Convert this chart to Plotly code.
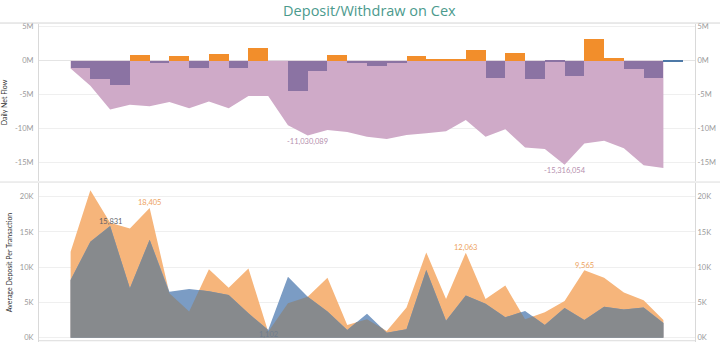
import plotly.graph_objects as go

# ---------------- data ----------------
days = list(range(31))
# daily net flow (millions)
net_flow = [-1.13, -2.75, -3.6, 0.84, -0.3, 0.64, -1.0, 1.03, -1.03, 1.92, 0.0,
            -4.4, -1.5, 0.79, -0.35, -0.74, -0.3, 0.64, 0.15, 0.3, 1.62, -2.56,
            1.08, -2.7, -0.2, -2.3, 3.15, 0.4, -1.23, -2.5, -0.2]
# running net flow (millions)
running_flow = [-1.13, -3.7, -7.2, -6.5, -6.7, -6.1, -7.0, -6.0, -7.0, -5.2, -5.2,
                -9.5, -11.030089, -10.2, -10.5, -11.2, -11.55, -10.96, -10.7, -10.4,
                -8.75, -11.2, -10.1, -12.8, -13.0, -15.316054, -12.2, -11.8, -12.9,
                -15.4, -15.8]
# average deposit per transaction (thousands), two series
avg_orange = [12.2, 20.9, 16.3, 15.5, 18.405, 6.3, 3.7, 9.7, 7.1, 9.8, 0.85,
              4.9, 5.8, 8.5, 1.8, 2.6, 0.95, 4.3, 12.1, 5.5, 12.063, 5.5, 7.4,
              2.6, 3.6, 5.2, 9.565, 8.5, 6.4, 5.3, 2.5]
avg_blue = [8.2, 13.6, 15.831, 7.0, 13.9, 6.5, 6.9, 6.6, 6.05, 3.45, 1.102,
            8.65, 5.8, 3.7, 1.1, 3.4, 0.7, 1.2, 9.6, 2.4, 6.0, 4.8, 2.9, 3.8,
            1.8, 4.2, 2.5, 4.4, 4.0, 4.3, 2.1]
bar_kind = ["neg" if v < 0 else "pos" for v in net_flow]
bar_kind[-1] = "last"

top_ticks = [5, 0, -5, -10, -15]
top_ticktext = ["5M", "0M", "-5M", "-10M", "-15M"]
bot_ticks = [0, 5, 10, 15, 20]
bot_ticktext = ["0K", "5K", "10K", "15K", "20K"]

ORANGE_BAR = "#f28e2b"
PURPLE_BAR = "#8b73a3"
LAST_BAR = "#4e79a7"
AREA_PURPLE = "#cfaac8"
ORANGE_AREA = "#f6b57b"
BLUE_AREA = "#7b9cc4"
GREY_AREA = "#878a8d"

fig = go.Figure()

# ---- top panel: running area (under) + daily bars (on overlaying axis, drawn above) ----
fig.add_trace(go.Scatter(x=days, y=[v * 1e6 for v in running_flow], mode="lines",
                         line=dict(width=0, color=AREA_PURPLE), fill="tozeroy",
                         fillcolor=AREA_PURPLE, xaxis="x", yaxis="y", showlegend=False,
                         hoverinfo="skip"))
colmap = {"neg": PURPLE_BAR, "pos": ORANGE_BAR, "last": LAST_BAR}
fig.add_trace(go.Bar(x=[d + 0.5 for d in days], y=[v * 1e6 for v in net_flow], width=1.0,
                     marker=dict(color=[colmap[k] for k in bar_kind], line=dict(width=0)),
                     xaxis="x", yaxis="y3", showlegend=False))

# ---- bottom panel: overlapping areas ----
def min_path(xs, a, b):
    px, py = [], []
    for i in range(len(xs)):
        px.append(xs[i]); py.append(min(a[i], b[i]))
        if i < len(xs) - 1:
            d0 = a[i] - b[i]; d1 = a[i + 1] - b[i + 1]
            if d0 * d1 < 0:
                t = d0 / (d0 - d1)
                px.append(xs[i] + t * (xs[i + 1] - xs[i]))
                py.append(a[i] + t * (a[i + 1] - a[i]))
    return px, py

yo = [v * 1000 for v in avg_orange]
yb = [v * 1000 for v in avg_blue]
mx, my = min_path(days, yo, yb)
for ys, col in [(yo, ORANGE_AREA), (yb, BLUE_AREA)]:
    fig.add_trace(go.Scatter(x=days, y=ys, mode="lines", line=dict(width=0, color=col),
                             fill="tozeroy", fillcolor=col, xaxis="x2", yaxis="y2",
                             showlegend=False, hoverinfo="skip"))
fig.add_trace(go.Scatter(x=mx, y=my, mode="lines", line=dict(width=0, color=GREY_AREA),
                         fill="tozeroy", fillcolor=GREY_AREA, xaxis="x2", yaxis="y2",
                         showlegend=False, hoverinfo="skip"))
# dummy trace for right-side axis of bottom panel
fig.add_trace(go.Scatter(x=[None], y=[None], xaxis="x2", yaxis="y4", showlegend=False))

# ---- labels ----
def lab(xa, ya, i, val, text, color, shift):
    fig.add_annotation(x=i, y=val, xref=xa, yref=ya, text=text, showarrow=False,
                       yshift=shift, font=dict(size=7.5, color=color, family="Lato"))

lab("x", "y", 12, running_flow[12] * 1e6, "-11,030,089", "#b58fae", -6)
lab("x", "y", 25, running_flow[25] * 1e6, "-15,316,054", "#b58fae", -6)
lab("x2", "y2", 4, yo[4], "18,405", "#eda25c", 5)
lab("x2", "y2", 2, yb[2], "15,831", "#5e6166", 5)
lab("x2", "y2", 20, yo[20], "12,063", "#eda25c", 5)
lab("x2", "y2", 26, yo[26], "9,565", "#eda25c", 5)
lab("x2", "y2", 10, yb[10], "1,102", "#6f7d8e", -5)

xr = [-1.6, 31.6]
top_rng = [-17.74e6, 5.41e6]
bot_rng = [-610, 21940]
tickfont = dict(size=7.5, color="#9a9a9a", family="Lato")
common_x = dict(range=xr, showticklabels=False, showgrid=False, zeroline=False,
                showline=False, fixedrange=True)
fig.update_layout(
    width=720, height=346,
    margin=dict(l=36, r=20, t=24, b=4),
    paper_bgcolor="white", plot_bgcolor="white",
    bargap=0,
    xaxis=dict(domain=[0, 1], anchor="y", **common_x),
    xaxis2=dict(domain=[0, 1], anchor="y2", matches="x", **common_x),
    yaxis=dict(domain=[0.506, 1], anchor="x", range=top_rng, tickvals=[v * 1e6 for v in top_ticks],
               ticktext=top_ticktext, tickfont=tickfont, showgrid=True, gridcolor="#efefef",
               zeroline=True, zerolinecolor="#e4e4e4", zerolinewidth=1, showline=True,
               linecolor="#d9d9d9", ticks="", ticklabelstandoff=3,
               title=dict(text="Daily Net Flow", font=dict(size=7, color="#333", family="Lato"),
                          standoff=6)),
    yaxis3=dict(overlaying="y", side="right", anchor="x", range=top_rng,
                tickvals=[v * 1e6 for v in top_ticks], ticktext=top_ticktext, tickfont=tickfont,
                showgrid=False, zeroline=False, showline=True, linecolor="#d9d9d9", ticks=""),
    yaxis2=dict(domain=[0, 0.5], anchor="x2", range=bot_rng, tickvals=[v * 1000 for v in bot_ticks],
                ticktext=bot_ticktext, tickfont=tickfont, showgrid=True, gridcolor="#efefef",
                zeroline=False, showline=True, linecolor="#d9d9d9", ticks="", ticklabelstandoff=3,
                title=dict(text="Average Deposit Per Transaction",
                           font=dict(size=7, color="#333", family="Lato"), standoff=6)),
    yaxis4=dict(overlaying="y2", side="right", anchor="x2", range=bot_rng,
                tickvals=[v * 1000 for v in bot_ticks], ticktext=bot_ticktext, tickfont=tickfont,
                showgrid=False, zeroline=False, showline=True, linecolor="#d9d9d9", ticks=""),
    title=dict(text="Deposit/Withdraw on Cex", x=0.513, xanchor="center", y=0.983, yanchor="top",
               font=dict(size=14.5, color="#4b9a8d", family="Open Sans")),
    shapes=[
        dict(type="line", xref="paper", yref="paper", x0=-0.06, x1=1.04, y0=1.003, y1=1.003,
             line=dict(color="#d5d5d5", width=1)),
        dict(type="line", xref="paper", yref="paper", x0=-0.06, x1=1.04, y0=0.503, y1=0.503,
             line=dict(color="#dcdcdc", width=1)),
        dict(type="line", xref="paper", yref="paper", x0=0, x1=1, y0=0.004, y1=0.004,
             line=dict(color="#dcdcdc", width=1)),
    ],
)
fig.write_html("out.html")
